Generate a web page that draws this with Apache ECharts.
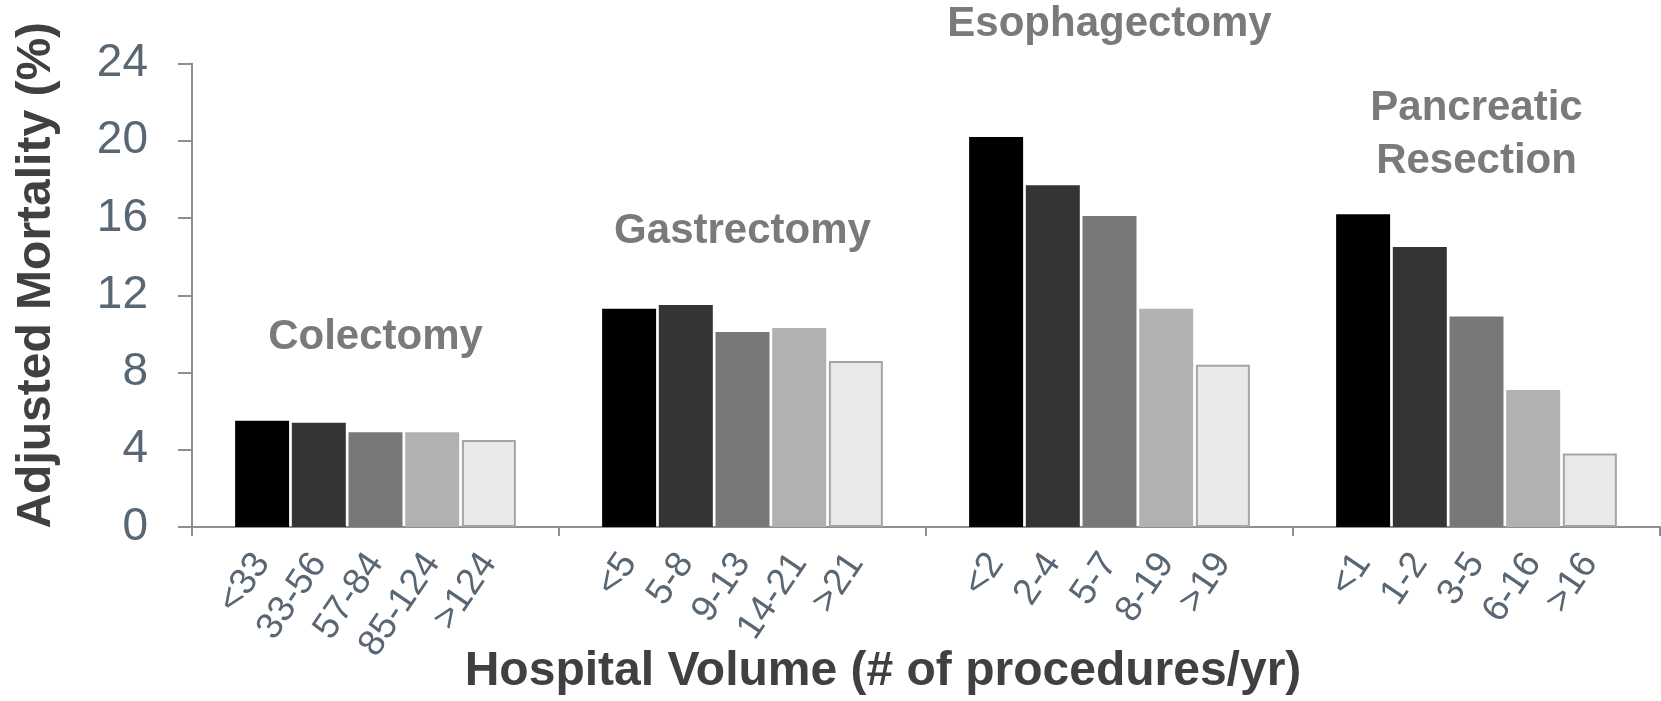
<!DOCTYPE html>
<html>
<head>
<meta charset="utf-8">
<script src="https://cdn.jsdelivr.net/npm/echarts@6/dist/echarts.min.js"></script>
<style>
  html, body { margin: 0; padding: 0; background: #ffffff; }
  #chart { width: 1661px; height: 701px; }
</style>
</head>
<body>
<div id="chart"></div>
<script>
// ---- data ----
const groups = ['Colectomy', 'Gastrectomy', 'Esophagectomy', 'Pancreatic\nResection'];
const volumeLabels = [
  ['<33', '33-56', '57-84', '85-124', '>124'],
  ['<5', '5-8', '9-13', '14-21', '>21'],
  ['<2', '2-4', '5-7', '8-19', '>19'],
  ['<1', '1-2', '3-5', '6-16', '>16']
];
const colectomy      = [5.5, 5.4, 4.9, 4.9, 4.5];
const gastrectomy    = [11.3, 11.5, 10.1, 10.3, 8.6];
const esophagectomy  = [20.2, 17.7, 16.1, 11.3, 8.4];
const pancreatic     = [16.2, 14.5, 10.9, 7.1, 3.8];
const mortality = [colectomy, gastrectomy, esophagectomy, pancreatic];
const yMin = 0, yMax = 24, yInterval = 4;
const xAxisName = 'Hospital Volume (# of procedures/yr)';
const yAxisName = 'Adjusted Mortality (%)';

// ---- styles ----
const FONT = '"Liberation Sans", Arial, sans-serif';
const barColors = ['#000000', '#343434', '#787878', '#b1b1b1', '#e9e9e9'];
const barBorders = ['#000000', '#343434', '#787878', '#b1b1b1', '#a5a5a5'];
const axisColor = '#8b9095';
const tickTextColor = '#596775';

const series = barColors.map((c, i) => ({
  type: 'bar',
  name: 'Volume rank ' + (i + 1),
  barCategoryGap: '23.5%',
  barGap: '5%',
  data: groups.map((g, gi) => mortality[gi][i]),
  itemStyle: { color: c, borderColor: barBorders[i], borderWidth: i === 4 ? 2 : 0 },
  label: {
    show: true,
    position: 'bottom',
    distance: 30,
    rotate: 56,
    align: 'right',
    verticalAlign: 'middle',
    fontFamily: FONT,
    fontSize: 37,
    color: tickTextColor,
    formatter: p => volumeLabels[p.dataIndex][i]
  },
  emphasis: { disabled: true },
  animation: false
}));

// group title annotations (placed in data units of the value axis)
const titleLevel = [9.8, 15.3, 26.0, 20.3];
series.push({
  type: 'scatter',
  name: 'Procedure',
  clip: false,
  symbolSize: 0,
  silent: true,
  animation: false,
  itemStyle: { opacity: 1 },
  data: groups.map((g, gi) => ({ name: g, value: [gi, titleLevel[gi]] })),
  label: {
    show: true,
    position: 'inside',
    formatter: p => groups[p.dataIndex],
    fontFamily: FONT,
    fontWeight: 'bold',
    fontSize: 42,
    lineHeight: 53,
    color: '#7a7a7a',
    opacity: 1,
    align: 'center',
    verticalAlign: 'middle'
  },
  emphasis: { disabled: true }
});

const chart = echarts.init(document.getElementById('chart'), null, { renderer: 'canvas' });
chart.setOption({
  backgroundColor: '#ffffff',
  animation: false,
  grid: { left: 192, right: 1, top: 63.5, bottom: 170.5 },
  xAxis: {
    type: 'category',
    data: groups,
    boundaryGap: true,
    axisLine: { show: true, lineStyle: { color: axisColor, width: 2 } },
    axisTick: { show: true, alignWithLabel: false, length: 9, lineStyle: { color: axisColor, width: 2 } },
    axisLabel: { show: false },
    splitLine: { show: false },
    name: xAxisName,
    nameLocation: 'middle',
    nameGap: 121,
    nameTextStyle: {
      fontFamily: FONT, fontWeight: 'bold', fontSize: 48, color: '#404040',
      verticalAlign: 'top', padding: [0, 86, 0, 0]
    }
  },
  yAxis: {
    type: 'value',
    min: yMin, max: yMax, interval: yInterval,
    axisLine: { show: true, lineStyle: { color: axisColor, width: 2 } },
    axisTick: { show: true, inside: false, length: 14, lineStyle: { color: axisColor, width: 2 } },
    axisLabel: { margin: 44, fontFamily: FONT, fontSize: 46, color: tickTextColor },
    splitLine: { show: false },
    name: yAxisName,
    nameLocation: 'middle',
    nameGap: 131,
    nameTextStyle: {
      fontFamily: FONT, fontWeight: 'bold', fontSize: 48, color: '#404040',
      padding: [0, 0, 0, 40]
    }
  },
  series: series
});
</script>
</body>
</html>
